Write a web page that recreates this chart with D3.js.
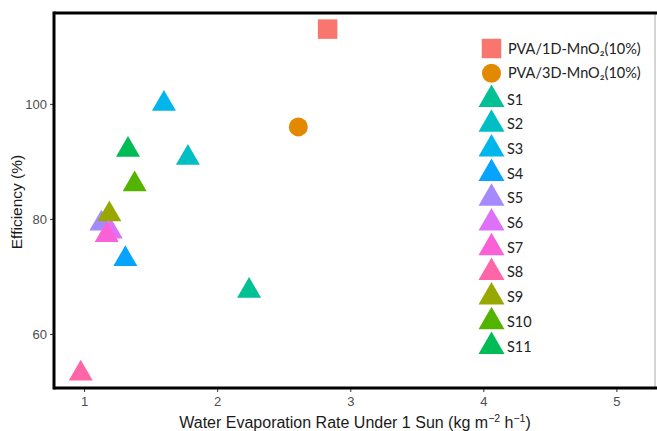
<!DOCTYPE html>
<html><head><meta charset="utf-8">
<script src="https://cdn.jsdelivr.net/npm/d3@7"></script>
<style>body{margin:0;background:#fff;}svg{display:block;}</style>
</head><body><svg id="c" width="657" height="431"></svg>
<script>
// Data
const seriesNames = ["PVA/1D-MnO\u2082(10%)", "PVA/3D-MnO\u2082(10%)", "S1", "S2", "S3", "S4", "S5", "S6", "S7", "S8", "S9", "S10", "S11"];
const seriesShapes = ["square", "circle", "triangle", "triangle", "triangle", "triangle", "triangle", "triangle", "triangle", "triangle", "triangle", "triangle", "triangle"];
const seriesColors = ["#F8766D", "#E38900", "#00C094", "#00BFC4", "#00B6EB", "#06A4FF", "#A58AFF", "#DF70F8", "#FB61D7", "#FF66A8", "#99A800", "#53B400", "#00BC56"];
const evapRate = [2.83, 2.61, 2.24, 1.78, 1.60, 1.31, 1.13, 1.20, 1.17, 0.975, 1.19, 1.38, 1.33];
const efficiency = [113.0, 96.0, 67.5, 90.6, 100.0, 73.0, 79.2, 77.8, 77.2, 53.1, 80.8, 86.0, 92.0];
const drawOrder = [0, 1, 2, 3, 4, 5, 6, 7, 8, 9, 10, 11, 12];
const xTicks = [1, 2, 3, 4, 5];
const yTicks = [60, 80, 100];

const W = 657, H = 431;
const m = {left: 54, right: 2, top: 13, bottom: 43};
const svg = d3.select("#c");
const x = d3.scaleLinear().domain([0.774, 5.29]).range([m.left, W - m.right]);
const y = d3.scaleLinear().domain([50.6, 115.8]).range([H - m.bottom, m.top]);

// frame
svg.append("line").attr("x1", W - m.right).attr("x2", W - m.right).attr("y1", m.top).attr("y2", H - m.bottom)
  .attr("stroke", "#aaa").attr("stroke-width", 1);
svg.append("line").attr("x1", m.left).attr("x2", W).attr("y1", m.top).attr("y2", m.top)
  .attr("stroke", "#000").attr("stroke-width", 3);

// axes
const xAxis = svg.append("g").attr("transform", `translate(0,${H - m.bottom})`)
  .call(d3.axisBottom(x).tickValues(xTicks).tickFormat(d3.format("d")).tickSize(4).tickPadding(5));
const yAxis = svg.append("g").attr("transform", `translate(${m.left},0)`)
  .call(d3.axisLeft(y).tickValues(yTicks).tickFormat(d3.format("d")).tickSize(4).tickPadding(3));
[xAxis, yAxis].forEach(g => {
  g.select(".domain").remove();
  g.selectAll(".tick line").attr("stroke", "#333");
  g.selectAll(".tick text").attr("fill", "#4D4D4D").style("font-family", "Liberation Sans, Arial, sans-serif").style("font-size", "13px");
});
svg.append("line").attr("x1", m.left).attr("x2", m.left).attr("y1", m.top - 1.5).attr("y2", H - m.bottom + 1.5)
  .attr("stroke", "#000").attr("stroke-width", 3);
svg.append("line").attr("x1", m.left).attr("x2", W).attr("y1", H - m.bottom).attr("y2", H - m.bottom)
  .attr("stroke", "#000").attr("stroke-width", 3);

// titles
const xt = svg.append("text").attr("x", 355).attr("y", 428)
  .attr("text-anchor", "middle").attr("fill", "#1a1a1a")
  .style("font-family", "Liberation Sans, Arial, sans-serif").style("font-size", "16px");
xt.append("tspan").text("Water Evaporation Rate Under 1 Sun (kg m");
xt.append("tspan").attr("dy", -6).style("font-size", "10.5px").text("\u22122");
xt.append("tspan").attr("dy", 6).text(" h");
xt.append("tspan").attr("dy", -6).style("font-size", "10.5px").text("\u22121");
xt.append("tspan").attr("dy", 6).text(")");

svg.append("text").attr("transform", `translate(22,${202}) rotate(-90)`)
  .attr("text-anchor", "middle").attr("fill", "#1a1a1a")
  .style("font-family", "Liberation Sans, Arial, sans-serif").style("font-size", "15.5px")
  .text("Efficiency (%)");

function symPath(shape, big) {
  if (shape === "square") return d3.symbol(d3.symbolSquare, 380)();
  if (shape === "circle") return d3.symbol(d3.symbolCircle, Math.PI * 9.5 * 9.5)();
  const w = big ? 26 : 24;
  const yy = w / (2 * Math.sqrt(3));
  return d3.symbol(d3.symbolTriangle, yy * yy * 3 * Math.sqrt(3))();
}

// points
svg.append("g").selectAll("path").data(drawOrder).join("path")
  .attr("transform", i => `translate(${x(evapRate[i])},${y(efficiency[i])})`)
  .attr("d", i => symPath(seriesShapes[i], false))
  .attr("fill", i => seriesColors[i]);

// legend
const leg = svg.append("g");
const legY = d3.scaleLinear().domain([0, 1]).range([48.5, 73.3]);
const legItems = leg.selectAll("g").data(seriesNames.map((n, i) => i)).join("g")
  .attr("transform", i => `translate(491.5,${i < 2 ? legY(i) : 99.5 + (i - 2) * 24.7})`);
legItems.append("path").attr("d", i => symPath(seriesShapes[i], true)).attr("fill", i => seriesColors[i]);
legItems.append("text").attr("x", i => i < 2 ? 16.5 : 15.5).attr("y", 0).attr("dy", "0.35em")
  .attr("fill", "#222").style("font-family", "Lato, Carlito, sans-serif").style("font-size", "14.5px")
  .text(i => seriesNames[i]);
</script></body></html>
